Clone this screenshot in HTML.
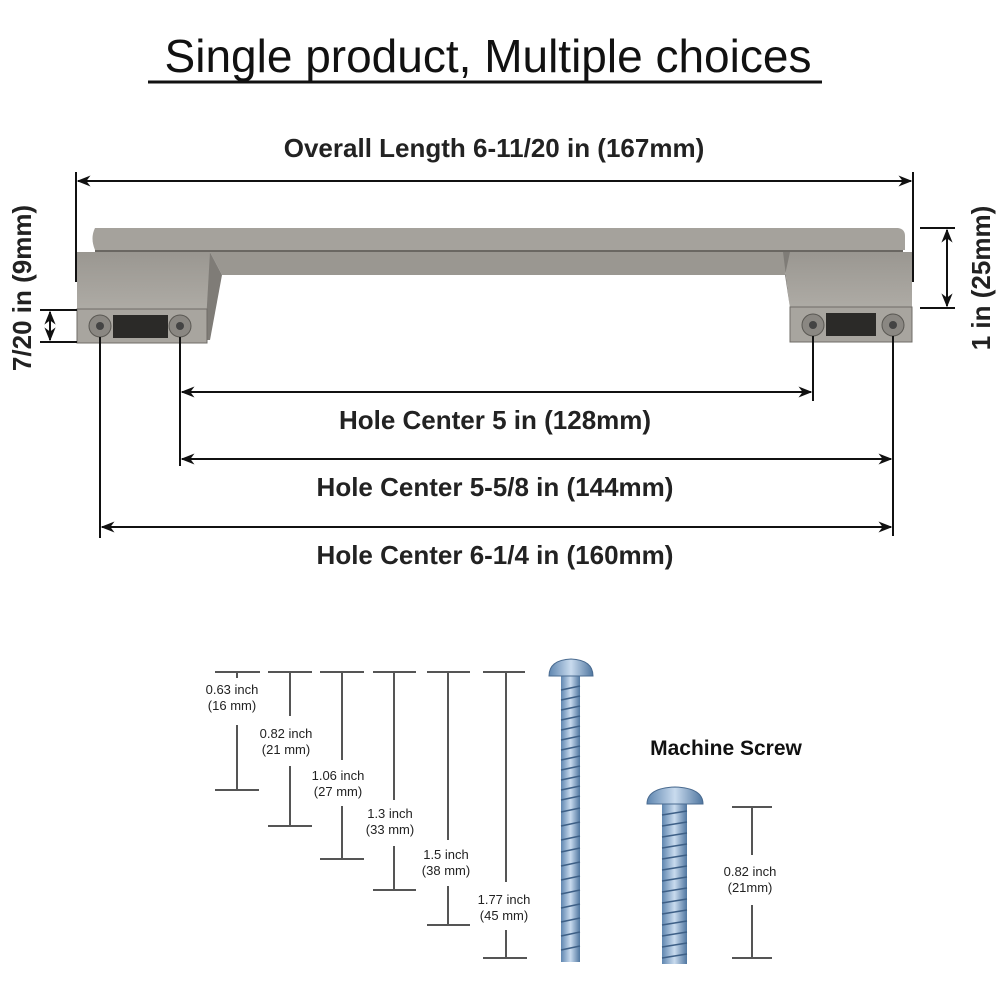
<!DOCTYPE html>
<html><head><meta charset="utf-8"><style>
html,body{margin:0;padding:0;background:#fff;}
svg{display:block;}
text{font-family:"Liberation Sans","DejaVu Sans",sans-serif;}
</style></head><body>
<svg width="1000" height="1000" viewBox="0 0 1000 1000" xmlns="http://www.w3.org/2000/svg">
<defs>
<marker id="a" viewBox="0 0 10 10" refX="9" refY="5" markerWidth="7" markerHeight="7" orient="auto-start-reverse"><path d="M0,1 L10,5 L0,9 L3,5z" fill="#111"/></marker>
<linearGradient id="m" x1="0" y1="0" x2="0" y2="1"><stop offset="0" stop-color="#9a9791"/><stop offset="1" stop-color="#aeaba5"/></linearGradient>
<linearGradient id="sc" x1="0" y1="0" x2="1" y2="0"><stop offset="0" stop-color="#5f86b0"/><stop offset=".5" stop-color="#c9dbee"/><stop offset="1" stop-color="#4f76a0"/></linearGradient>
</defs>
<text x="488" y="72" font-size="46" text-anchor="middle" fill="#111">Single product, Multiple choices</text>
<line x1="148" y1="82" x2="822" y2="82" stroke="#111" stroke-width="3"/>
<text x="494" y="157" font-size="26" font-weight="bold" text-anchor="middle" fill="#222">Overall Length 6-11/20 in (167mm)</text>
<line x1="78" y1="181" x2="911" y2="181" stroke="#111" stroke-width="2" marker-start="url(#a)" marker-end="url(#a)"/>
<line x1="76" y1="172" x2="76" y2="282" stroke="#111" stroke-width="2"/>
<line x1="913" y1="172" x2="913" y2="282" stroke="#111" stroke-width="2"/>
<!-- handle -->
<path d="M95,228 L898,228 Q905,229 905,236 L905,250 L95,250 Q90,238 95,228z" fill="#a5a29c"/>
<line x1="95" y1="251" x2="903" y2="251" stroke="#6a6762" stroke-width="2"/>
<path d="M77,252 L210,252 L210,310 L77,310z" fill="url(#m)"/>
<path d="M783,252 L912,252 L912,308 L790,308z" fill="url(#m)"/>
<path d="M210,252 L790,252 L785,275 L222,275z" fill="#9a9791"/>
<path d="M210,252 L222,275 L210,340 L205,340z" fill="#7f7c77"/>
<path d="M790,252 L785,275 L790,308 L783,252z" fill="#7f7c77"/>
<rect x="77" y="309" width="130" height="34" fill="#a8a59f" stroke="#6f6c67"/>
<rect x="790" y="307" width="122" height="35" fill="#a8a59f" stroke="#6f6c67"/>
<rect x="113" y="315" width="55" height="23" fill="#2b2a28"/>
<rect x="826" y="313" width="50" height="23" fill="#2b2a28"/>
<circle cx="100" cy="326" r="11" fill="#8a8782" stroke="#5a5853"/><circle cx="100" cy="326" r="4" fill="#444"/>
<circle cx="180" cy="326" r="11" fill="#8a8782" stroke="#5a5853"/><circle cx="180" cy="326" r="4" fill="#444"/>
<circle cx="813" cy="325" r="11" fill="#8a8782" stroke="#5a5853"/><circle cx="813" cy="325" r="4" fill="#444"/>
<circle cx="893" cy="325" r="11" fill="#8a8782" stroke="#5a5853"/><circle cx="893" cy="325" r="4" fill="#444"/>
<!-- side dims -->
<line x1="40" y1="310" x2="77" y2="310" stroke="#111" stroke-width="2"/>
<line x1="40" y1="342" x2="77" y2="342" stroke="#111" stroke-width="2"/>
<line x1="50" y1="312" x2="50" y2="340" stroke="#111" stroke-width="2" marker-start="url(#a)" marker-end="url(#a)"/>
<text transform="translate(31,288) rotate(-90)" font-size="26" font-weight="bold" text-anchor="middle" fill="#222">7/20 in (9mm)</text>
<line x1="920" y1="228" x2="955" y2="228" stroke="#111" stroke-width="2"/>
<line x1="920" y1="308" x2="955" y2="308" stroke="#111" stroke-width="2"/>
<line x1="947" y1="230" x2="947" y2="306" stroke="#111" stroke-width="2" marker-start="url(#a)" marker-end="url(#a)"/>
<text transform="translate(990,278) rotate(-90)" font-size="26" font-weight="bold" text-anchor="middle" fill="#222">1 in (25mm)</text>
<!-- hole center -->
<g stroke="#111" stroke-width="2">
<line x1="100" y1="337" x2="100" y2="538"/>
<line x1="180" y1="337" x2="180" y2="466"/>
<line x1="813" y1="336" x2="813" y2="401"/>
<line x1="893" y1="336" x2="893" y2="536"/>
<line x1="182" y1="392" x2="811" y2="392" marker-start="url(#a)" marker-end="url(#a)"/>
<line x1="182" y1="459" x2="891" y2="459" marker-start="url(#a)" marker-end="url(#a)"/>
<line x1="102" y1="527" x2="891" y2="527" marker-start="url(#a)" marker-end="url(#a)"/>
</g>
<g font-size="26" font-weight="bold" text-anchor="middle" fill="#222">
<text x="495" y="429">Hole Center 5 in (128mm)</text>
<text x="495" y="496">Hole Center 5-5/8 in (144mm)</text>
<text x="495" y="564">Hole Center 6-1/4 in (160mm)</text>
</g>
<!-- screw dims -->
<g stroke="#555" stroke-width="2">
<line x1="215" y1="672" x2="260" y2="672"/><line x1="268" y1="672" x2="312" y2="672"/><line x1="320" y1="672" x2="364" y2="672"/><line x1="373" y1="672" x2="416" y2="672"/><line x1="427" y1="672" x2="470" y2="672"/><line x1="483" y1="672" x2="525" y2="672"/>
<line x1="237" y1="672" x2="237" y2="678"/><line x1="237" y1="725" x2="237" y2="790"/><line x1="215" y1="790" x2="259" y2="790"/>
<line x1="290" y1="672" x2="290" y2="716"/><line x1="290" y1="766" x2="290" y2="826"/><line x1="268" y1="826" x2="312" y2="826"/>
<line x1="342" y1="672" x2="342" y2="760"/><line x1="342" y1="806" x2="342" y2="859"/><line x1="320" y1="859" x2="364" y2="859"/>
<line x1="394" y1="672" x2="394" y2="800"/><line x1="394" y1="846" x2="394" y2="890"/><line x1="373" y1="890" x2="416" y2="890"/>
<line x1="448" y1="672" x2="448" y2="840"/><line x1="448" y1="886" x2="448" y2="925"/><line x1="427" y1="925" x2="470" y2="925"/>
<line x1="506" y1="672" x2="506" y2="882"/><line x1="506" y1="930" x2="506" y2="958"/><line x1="483" y1="958" x2="527" y2="958"/>
<line x1="732" y1="807" x2="772" y2="807"/><line x1="752" y1="807" x2="752" y2="855"/><line x1="752" y1="905" x2="752" y2="958"/><line x1="732" y1="958" x2="772" y2="958"/>
</g>
<g font-size="13" text-anchor="middle" fill="#222">
<text x="232" y="694">0.63 inch</text><text x="232" y="710">(16 mm)</text>
<text x="286" y="738">0.82 inch</text><text x="286" y="754">(21 mm)</text>
<text x="338" y="780">1.06 inch</text><text x="338" y="796">(27 mm)</text>
<text x="390" y="818">1.3 inch</text><text x="390" y="834">(33 mm)</text>
<text x="446" y="859">1.5 inch</text><text x="446" y="875">(38 mm)</text>
<text x="504" y="904">1.77 inch</text><text x="504" y="920">(45 mm)</text>
<text x="750" y="876">0.82 inch</text><text x="750" y="892">(21mm)</text>
</g>
<text x="726" y="755" font-size="21" font-weight="bold" text-anchor="middle" fill="#111">Machine Screw</text>
<!-- screws -->
<rect x="561" y="675" width="19" height="287" fill="url(#sc)"/>
<path d="M549,676 Q549,660 571,659 Q593,660 593,676z" fill="url(#sc)" stroke="#4a6b90"/>
<g stroke="#3d5f86" stroke-width="1.5">
<path d="M561,690 L580,686 M561,700 L580,696 M561,710 L580,706 M561,720 L580,716 M561,730 L580,726 M561,740 L580,736 M561,750 L580,746 M561,760 L580,756 M561,770 L580,766 M561,780 L580,776 M561,790 L580,786 M561,800 L580,796 M561,812 L580,808 M561,826 L580,822 M561,840 L580,836 M561,852 L580,848 M561,866 L580,862 M561,880 L580,876 M561,894 L580,890 M561,908 L580,904 M561,922 L580,918 M561,936 L580,932 M561,950 L580,946"/>
</g>
<rect x="662" y="802" width="25" height="162" fill="url(#sc)"/>
<path d="M647,804 Q647,788 675,787 Q703,788 703,804z" fill="url(#sc)" stroke="#4a6b90"/>
<g stroke="#3d5f86" stroke-width="1.5">
<path d="M662,815 L687,811 M662,826 L687,822 M662,837 L687,833 M662,848 L687,844 M662,859 L687,855 M662,870 L687,866 M662,881 L687,877 M662,892 L687,888 M662,903 L687,899 M662,914 L687,910 M662,925 L687,921 M662,936 L687,932 M662,947 L687,943 M662,958 L687,954"/>
</g>
</svg>
</body></html>
